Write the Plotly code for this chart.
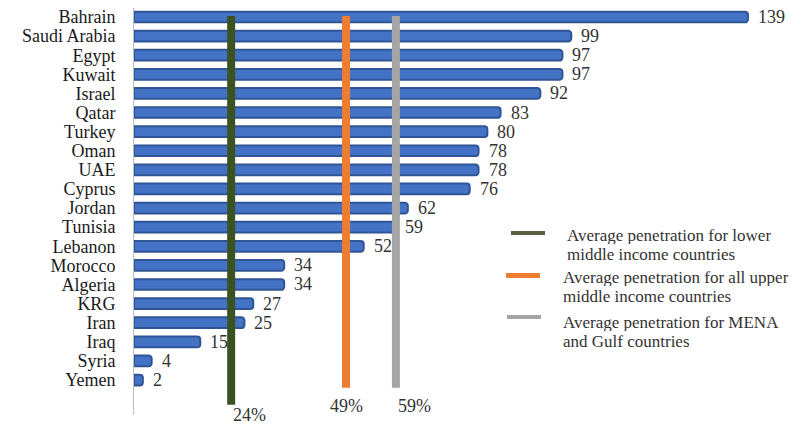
import plotly.graph_objects as go

# Data
countries = ['Bahrain', 'Saudi Arabia', 'Egypt', 'Kuwait', 'Israel', 'Qatar', 'Turkey', 'Oman', 'UAE',
             'Cyprus', 'Jordan', 'Tunisia', 'Lebanon', 'Morocco', 'Algeria', 'KRG', 'Iran', 'Iraq',
             'Syria', 'Yemen']
penetration = [139, 99, 97, 97, 92, 83, 80, 78, 78, 76, 62, 59, 52, 34, 34, 27, 25, 15, 4, 2]

avg_names = ['Average penetration for lower<br>middle income countries',
             'Average penetration for all upper<br>middle income countries',
             'Average penetration for MENA<br>and Gulf countries']
avg_positions = [22, 48, 59.3]
avg_labels = ['24%', '49%', '59%']
avg_colors = ['#3b5323', '#ed7d31', '#a5a5a5']
legend_colors = ['#5b5e3f', '#ed7d31', '#a5a5a5']

FONT = 'Liberation Serif, Tinos, Times New Roman, DejaVu Serif, serif'
# page has an 8px body margin, so the figure starts at (8, 8)
OFF = 8
W, H = 808 - OFF, 426 - OFF
ML, MT, MB = 134 - OFF, 8 - OFF, 11
plot_w, plot_h = W - ML, H - MT - MB

def px_x(p):
    return (p - OFF - ML) / plot_w

def px_y(p):
    return (H - MB - (p - OFF)) / plot_h

idx = list(range(len(countries)))

fig = go.Figure()
fig.add_trace(go.Bar(
    x=penetration, y=idx, orientation='h', width=0.56,
    marker=dict(color='#4472c4', line=dict(color='#2f5597', width=2), cornerradius=3),
    showlegend=False, hoverinfo='skip'
))

# vertical average lines
line_bottoms = [20.3, 19.4, 19.4]
for pos, col, bot in zip(avg_positions, avg_colors, line_bottoms):
    fig.add_trace(go.Scatter(x=[pos, pos], y=[-0.05, bot], mode='lines',
                             line=dict(color=col, width=8), showlegend=False, hoverinfo='skip'))

# value labels
for v, i in zip(penetration, idx):
    fig.add_annotation(x=v, y=i, text=str(v), showarrow=False, xanchor='left', xshift=8,
                       font=dict(family=FONT, size=18, color='#333333'))

# percentage labels under lines
label_py = [415, 406, 406]
label_anchor = ['left', 'center', 'left']
for pos, lab, ly, anc in zip(avg_positions, avg_labels, label_py, label_anchor):
    fig.add_annotation(x=pos, xref='x', yref='paper', y=px_y(ly), text=lab, showarrow=False,
                       xanchor=anc, yanchor='middle',
                       font=dict(family=FONT, size=18, color='#333333'))

# legend drawn by hand, one annotation per text line to keep the tight spacing
leg_sym = [(511, 545, 231, 235), (506, 540, 273, 278), (507, 541, 315, 319)]
leg_text = [(565, 235), (561, 277), (561, 322)]
for (x0, x1, y0, y1), (tx, ty), name, col in zip(leg_sym, leg_text, avg_names, legend_colors):
    fig.add_shape(type='rect', xref='paper', yref='paper', x0=px_x(x0), x1=px_x(x1),
                  y0=px_y(y1), y1=px_y(y0), fillcolor=col, line=dict(width=0))
    for k, part in enumerate(name.split('<br>')):
        fig.add_annotation(xref='paper', yref='paper', x=px_x(tx), y=px_y(ty + 19 * k), text=part,
                           showarrow=False, xanchor='left', yanchor='middle', align='left',
                           height=17, font=dict(family=FONT, size=17, color='#333333'))

fig.update_xaxes(range=[0, plot_w / 4.417], showgrid=False, zeroline=False, showticklabels=False,
                 showline=False, automargin=False)
fig.update_yaxes(range=[20.83, -0.47], tickvals=idx, ticktext=countries, showgrid=False,
                 zeroline=False, showline=True, linecolor='#bfbfbf', linewidth=1,
                 ticks='', ticklabelstandoff=14, automargin=False, ticklabeloverflow='allow',
                 tickfont=dict(family=FONT, size=18, color='#1a1a1a'))
fig.update_layout(width=W, height=H, margin=dict(l=ML, r=0, t=MT, b=MB, autoexpand=False),
                  plot_bgcolor='white', paper_bgcolor='white', bargap=0.5,
                  font=dict(family=FONT))
fig.write_html("out.html")
